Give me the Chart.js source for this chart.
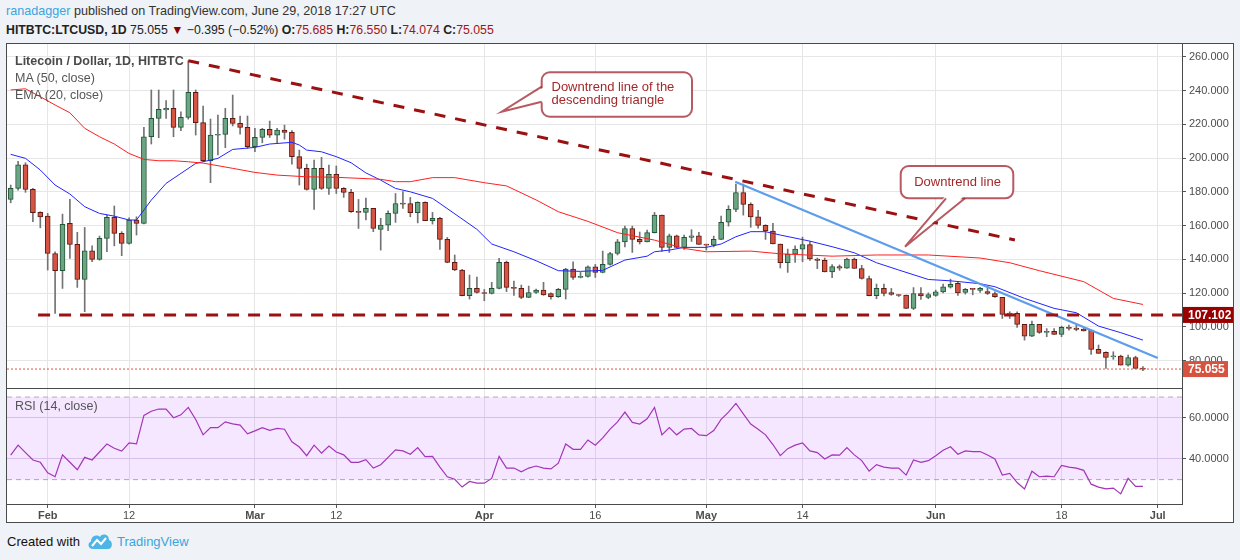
<!DOCTYPE html>
<html lang="en">
<head>
<meta charset="UTF-8">
<title>LTCUSD 1D</title>
<script src="https://cdn.jsdelivr.net/npm/chart.js"></script>
<style>
    body {
        margin: 0;
        width: 1240px;
        height: 560px;
        background: #eff2f6;
        font-family: "Liberation Sans", Arial, sans-serif;
        position: relative;
        overflow: hidden;
    }
    .abs { position: absolute; white-space: nowrap; }
    .red { color: #a31515; }
    #frame {
        position: absolute; left: 6px; top: 43px; width: 1228px; height: 480px;
        border: 1px solid #4a4a4a; box-sizing: border-box; background: #fff;
    }
    #sep { position: absolute; left: 6px; top: 388px; width: 1177px; height: 1px; background: #4a4a4a; }
    #priceCanvas { position: absolute; left: 7px; top: 44px; }
    #rsiCanvas { position: absolute; left: 7px; top: 389px; }
</style>
</head>
<body>
<div class="abs" style="left:6px; top:4px; font-size:12.6px; color:#333;"><span style="color:#3ba4e0">ranadagger</span> published on TradingView.com, June 29, 2018 17:27 UTC</div>
<div class="abs" style="left:6px; top:23px; font-size:12.3px; color:#222;"><b>HITBTC:LTCUSD, 1D</b> 75.055 <span style="color:#8b0000">&#9660;</span> &minus;0.395 (&minus;0.52%) <b>O:</b><span class="red">75.685</span> <b>H:</b><span class="red">76.550</span> <b>L:</b><span class="red">74.074</span> <b>C:</b><span class="red">75.055</span></div>

<div id="frame"></div>
<canvas id="priceCanvas" width="1226" height="344"></canvas>
<canvas id="rsiCanvas" width="1226" height="133"></canvas>
<div id="sep"></div>

<div class="abs" style="left:15px; top:54px; font-size:12.5px; color:#4a4a4a; font-weight:bold;">Litecoin / Dollar, 1D, HITBTC</div>
<div class="abs" style="left:15px; top:71px; font-size:12.5px; color:#555;">MA (50, close)</div>
<div class="abs" style="left:15px; top:88px; font-size:12.5px; color:#555;">EMA (20, close)</div>
<div class="abs" style="left:15px; top:399px; font-size:12.5px; color:#555;">RSI (14, close)</div>

<div class="abs" style="left:7px; top:534px; font-size:13px; color:#111;">Created with</div>
<svg class="abs" style="left:87px; top:532px;" width="26" height="18" viewBox="0 0 26 18">
    <path d="M6 17 C1 17 0 11 4 9.5 C4 4 10 2 13 5 C15 1 22 2 22 8 C26 9 26 17 21 17 Z" fill="#4db6e6"/>
    <path d="M5 14 L10 8 L14 12 L19 6" stroke="#fff" stroke-width="2" fill="none"/>
</svg>
<div class="abs" style="left:117px; top:534px; font-size:13px; color:#3ba4e0;">TradingView</div>

<script>
    // candles: one per day, day index counted from Feb 1 (Jan 27 = -5)
    const firstDay = -5;
    const opens = [175.5,182,196,181.4,167.8,165.6,143.5,133.3,161.3,148.9,128.1,145.1,140,152.4,164.9,155.4,149.5,163.3,161.3,212.6,223.5,228.5,229.4,218.2,224.1,238.9,
        221,198.4,213.5,214,223.5,220.5,218.2,206.7,212.2,217,213.6,216.6,215.2,200.8,193.9,181.4,193.9,182,190.3,182,179.7,168.4,167.8,170.2,157.8,160.3,167.2,
        173.3,173.1,167.6,173.7,162.9,164.3,151.8,138.2,133.7,118.5,122.8,120.4,119.8,122.8,138.2,123.4,122.8,117.5,120.4,121.8,119.8,117.9,122.2,134.3,129.3,129.9,
        135.6,132.3,137,143.5,150.4,158.3,151.8,150.4,155.8,166.2,147.1,154,147.1,153,154,148.9,148.4,151.8,162,169.6,179.6,172.6,165.2,160.1,156.8,149.1,
        138,143.1,146.1,148.7,140.2,139.4,132.6,135.7,134.8,140.2,134.6,128.7,118.5,122.8,120.4,119,118.9,111,119.8,117.5,118.7,120.8,123.6,125.8,120.4,122.8,121.6,
        121,119.8,117.5,107.4,108,101.5,94.6,101.5,96.8,97.4,95.6,99.7,99.3,98.7,98.1,86.7,84.9,82.3,82.7,77.4,81.9,75.685];
    const highs = [184,198,197.2,182,168.2,167.2,144.5,166.8,175.5,156,158.9,148,153.8,166.2,171.6,156.4,164.6,165.2,218.2,240.3,240.3,234,240.3,227.4,257.6,240.3,
        230.8,223.1,225.5,229.4,237.3,224.9,224.9,217.6,217.6,221.9,217.6,219.5,216.2,204.7,196.4,198.8,200.4,195.8,195.3,182.5,181.4,175.5,176.3,170.2,164.3,168.8,179,
        180.2,176.7,174.1,174.1,167.8,164.9,153,142.6,134.1,130.7,129.5,122.2,126.4,140.6,139,127.1,124.8,124.2,122.4,126.4,120.2,122.8,134.7,138.6,132.3,136.2,
        137,144.9,144.1,151.8,159.7,159.7,156.2,157.4,167.8,166.2,155,154.4,154.4,157.6,156,149,153.8,165.6,171.8,184.6,184.6,173.5,169,160.5,161.3,149.1,
        146.1,148,153.2,150.6,140.8,140.8,136.9,136.7,140.8,140.8,136.5,130.1,125.4,125.4,122.8,119.2,118.9,123.3,123.3,120.2,121.8,125.4,128.3,126.8,122.8,122.8,123.5,
        123.8,120.8,117.5,109,109,101.5,103.5,101.5,99,99,100.5,101.1,101.1,99.1,98.1,89.3,85.3,85.3,83.3,83.3,82.7,76.55];
    const lows = [173.5,181,179.7,162.3,158.7,133.7,108,122.8,140.6,123.4,109,138.6,139.5,144.5,148,142.2,149,154.4,161,208.3,212,223.5,212.6,216.2,223,213.6,
        198,185.4,201.8,206.1,219,214.2,205.7,203.7,209,212.2,209,211.2,196.4,184,181,169.6,181.4,178.5,179,176.7,167.8,158.3,163.3,156.4,145.5,157,161.9,
        170.2,165.2,161.6,162.9,160.9,145.9,138,133.3,118.3,116.5,120,115.5,119.5,122.5,120.9,118.7,116.7,117.3,119.8,118.7,116.5,117.5,116.5,128.2,129,129.5,
        129.3,132,136.6,142.6,147.4,144.1,149.1,150.4,155.6,144.7,144.1,146.9,145.9,150.6,148.9,145.5,147.4,151.6,159.7,168.2,166.2,159,158.5,151.8,149.1,134.9,
        132.3,138.2,138.6,139.4,134.5,132.6,129.1,133.5,134.6,134.6,128.3,118.3,116.7,118.3,118.7,118,110.8,110.3,116.3,116.7,118.1,120.2,123,118.7,119.4,119,120.5,
        119.2,117.5,105,105,99.7,92.2,94.2,96.2,94.2,95.6,94.2,98.1,97.7,97.5,83.7,84.3,75.5,80.8,77.4,76.8,75.4,74.074];
    const closes = [182,196,181.4,167.6,165.2,143.5,133.3,160.7,148.9,128.1,145.1,140,152.4,164.9,155.4,149.5,163.3,161.3,212.6,223.5,228.8,229.4,218.2,224.1,238.9,221,
        198.4,213.6,214,223.5,220.5,218.2,206.7,212.2,217,213.6,216.6,215.2,200.8,193.9,181.4,193.9,182,190.3,182,179.7,168.2,167.8,170.2,158.3,160.3,167.2,173.1,
        172.7,167.6,173.7,162.9,164.3,151.8,138.2,133.7,118.5,122.8,120.4,119.8,122.8,138.2,123.4,122.8,117.5,120.4,121.8,118.9,117.9,122.2,134.3,129.3,129.9,135.6,
        132.3,137,143.5,150.4,158.3,151.8,150.4,155.8,166.2,147.1,154,147.1,153,154,148.9,148.4,151.8,162,169.6,179.6,172.6,165.2,160.1,156.8,149.1,138,
        143.1,146.1,148.7,140.2,139.4,132.6,135.7,134.8,140.2,134.6,128.7,118.5,122.8,119.8,119.2,118.6,111,119.8,118.3,119.2,120.8,123.8,125.2,120.2,122.2,122.2,122.8,
        119.8,117.9,107.4,108.2,101.5,94.6,101.5,96.8,97.4,95.6,99.7,99.1,98.5,97.7,86.7,84.3,81.9,82.9,77.4,81.9,75.45,75.055];

    // moving averages at sample days
    const maDays = [-5,-3,-1,1,3,5,7,9,11,13,15,17,19,21,25,28,31,35,39,45,47,49,52,55,59,62,66,69,73,77,82,86,89,95,99,106,112,119,126,130,134,140,144,148];
    const maValues = [240.3,241,236.3,231.4,226.8,217.6,212.6,208.3,202.7,199.2,198.4,198.4,197.8,197,193.9,191.5,189.9,188.9,188.6,187.4,186,186,188.4,188.4,185.4,183.5,
        175.2,168.2,162.5,155.8,151.4,146.5,144.5,144.9,143.3,141.9,142.6,142.6,140.8,138,133.3,126.8,116.9,113.3];
    const emaDays = [-5,-3,-1,1,3,5,7,9,11,12,14,16,18,20,23,25,28,30,33,34,35,37,39,41,43,45,47,49,52,53,58,60,63,66,69,72,75,78,81,82,84,86,89,91,93,95,97,99,
        103,106,109,112,115,119,122,126,128,132,136,139,142,145,148];
    const emaValues = [202.2,199.8,192.9,184,178.7,171.2,167.2,165.6,163.3,163.3,175.1,185,190.9,196.8,199.8,205.1,206.3,208.3,209.3,207.7,204.7,203.7,200.8,197.2,
        191.2,186.9,182,180,176.1,173.1,157.8,149.1,144.5,139.2,133.3,132.9,133.5,139.6,141.9,144.5,145.5,147.1,147.1,149.1,153.4,156.4,156.4,154.4,150.8,147.5,143.9,
        138,133.7,128.1,127.3,125.6,123.8,116.9,111,108.4,100.5,96.6,92.2];

    // RSI(14), one value per candle
    const rsiValues = [41.9,46.7,43.1,39.5,38.4,33.3,31.4,42,38.4,34.8,40.8,39.5,43.4,47.3,45.2,43.8,47.8,47.3,61.1,63.1,64.2,64.2,60,61.4,65,59.1,51.7,55.2,55.2,58,
        57,56.4,52.2,53.6,55.2,53.9,54.8,54.4,48.3,45.8,41.6,46.7,42.8,46.3,43.4,42,38.4,38.4,39.7,35.6,37.2,40.8,44.4,43.9,42.3,45.5,41.1,41.3,36.1,31.4,30.2,26.4,
        29.1,28.3,28.3,30.6,41.3,35.6,35.6,33.8,35.6,36.6,35.6,35.2,38,47.3,44.7,44.7,49.2,46.7,50.2,54.5,58,62.7,57.7,56.9,59.5,65,51.7,55.2,51.7,54.5,54.8,51.7,
        51.3,53.8,59.2,62.7,66.9,61.9,56.9,54.4,51.7,47,41.6,45,46.7,47.8,43.9,43.1,40,42,41.9,45.5,42,39.2,34.1,37.3,36.1,35.6,35.6,32.2,39.5,38.4,39.2,41.6,44.2,
        45.9,42.3,43.9,43.6,43.6,41.9,40,32.2,33,28.6,25.5,34.1,31.4,31.7,31.4,36.9,36.1,35.6,34.5,27.8,26.4,25.5,25.9,23.1,30.6,26.7,26.7];

    // drawn lines
    const triangleX = [19, 130.7], triangleY = [257.6, 151.5];
    const supportLevel = 107.102, supportStart = -1.3;
    const downTrendX = [92.9, 150], downTrendY = [186, 81.6];
    const lastPrice = 75.055;

    // axis ticks
    const tickDays = [0, 11, 28, 39, 59, 74, 89, 102, 120, 137, 150];
    const tickLabels = ['Feb', '12', 'Mar', '12', 'Apr', '16', 'May', '14', 'Jun', '18', 'Jul'];
    const monthDays = [0, 28, 59, 89, 120, 150];
    const priceTicks = [80, 100, 120, 140, 160, 180, 200, 220, 240, 260];
    const rsiTicks = [40, 60];

    const xMin = -5.5, xMax = 153.28;
    const fontFam = '"Liberation Sans", Arial, sans-serif';

    const days = opens.map((_, i) => firstDay + i);
    const upColor = '#6ba583', upBorder = '#225437', downColor = '#d75442', downBorder = '#5b1a13';
    const isUp = opens.map((o, i) => closes[i] >= o);

    function callout(ctx, b) {
        ctx.save();
        ctx.lineWidth = 2;
        ctx.strokeStyle = 'rgba(160,35,45,0.75)';
        ctx.fillStyle = '#fff';
        ctx.beginPath();
        ctx.roundRect(b.x0, b.y0, b.x1 - b.x0, b.y1 - b.y0, 8);
        ctx.fill();
        ctx.stroke();
        // pointer
        const [p1, p2] = b.base;
        ctx.beginPath();
        ctx.moveTo(p1[0] + b.inset[0], p1[1] + b.inset[1]);
        ctx.lineTo(b.tip[0], b.tip[1]);
        ctx.lineTo(p2[0] + b.inset[0], p2[1] + b.inset[1]);
        ctx.closePath();
        ctx.fill();
        ctx.beginPath();
        ctx.moveTo(p1[0], p1[1]);
        ctx.lineTo(b.tip[0], b.tip[1]);
        ctx.lineTo(p2[0], p2[1]);
        ctx.stroke();
        ctx.fillStyle = '#a3282b';
        ctx.font = '13px ' + fontFam;
        ctx.textAlign = b.align;
        ctx.textBaseline = 'middle';
        b.lines.forEach((t, i) => ctx.fillText(t, b.tx, b.ty[i]));
        ctx.restore();
    }

    function priceTag(ctx, x, y, text, color, w) {
        ctx.save();
        ctx.fillStyle = color;
        ctx.fillRect(x + 1, y - 8, w, 16);
        ctx.fillStyle = '#fff';
        ctx.font = 'bold 12px ' + fontFam;
        ctx.textAlign = 'left';
        ctx.textBaseline = 'middle';
        ctx.fillText(text, x + 6, y + 0.5);
        ctx.restore();
    }

    const overlayPlugin = {
        id: 'overlay',
        afterDraw(chart) {
            const ctx = chart.ctx;
            const ys = chart.scales.y, area = chart.chartArea;
            callout(ctx, {
                x0: 534.7, y0: 28.3, x1: 685, y1: 72.7,
                base: [[534.7, 42.7], [534.7, 57.7]], inset: [3, 0], tip: [494.7, 67.7],
                lines: ['Downtrend line of the', 'descending triangle'], align: 'left', tx: 544.5, ty: [43.5, 56]
            });
            callout(ctx, {
                x0: 893.7, y0: 122, x1: 1006.3, y1: 154.3,
                base: [[958, 154.3], [939, 154.3]], inset: [0, -3], tip: [898, 202.7],
                lines: ['Downtrend line'], align: 'center', tx: 950.5, ty: [138]
            });
            priceTag(ctx, area.right, ys.getPixelForValue(supportLevel), '107.102', '#990000', 51);
            priceTag(ctx, area.right, ys.getPixelForValue(lastPrice), '75.055', '#d8533f', 45);
        }
    };

    function lineSet(xs, ysv, color, width, dash, order) {
        return {
            type: 'line',
            data: xs.map((x, i) => ({ x: x, y: ysv[i] })),
            borderColor: color,
            borderWidth: width,
            borderDash: dash,
            pointRadius: 0,
            tension: 0,
            fill: false,
            order: order
        };
    }

    // no auto padding: the chart area fills its canvas edge to edge
    function fitY(s) {
        s.width = 51;
        s.paddingTop = 0;
        s.paddingBottom = 0;
    }
    function fitX(h) {
        return s => {
            s.height = h;
            s.paddingLeft = 0;
            s.paddingRight = 0;
        };
    }

    new Chart(document.getElementById('priceCanvas'), {
        type: 'bar',
        data: {
            datasets: [
                {
                    data: days.map((d, i) => ({ x: d, y: [lows[i], highs[i]] })),
                    backgroundColor: '#737375',
                    barThickness: 1,
                    grouped: false,
                    order: 3
                },
                {
                    data: days.map((d, i) => ({ x: d, y: [opens[i], closes[i]] })),
                    backgroundColor: isUp.map(u => u ? upColor : downColor),
                    borderColor: isUp.map(u => u ? upBorder : downBorder),
                    borderWidth: 1,
                    borderSkipped: false,
                    barThickness: 5,
                    minBarLength: 1,
                    grouped: false,
                    order: 2
                },
                lineSet(maDays, maValues, '#ff1f1f', 1, [], 1),
                lineSet(emaDays, emaValues, '#2323ff', 1, [], 1),
                lineSet(triangleX, triangleY, '#9b1111', 3, [11, 10], 0),
                lineSet([supportStart, xMax], [supportLevel, supportLevel], '#9b1111', 3, [12, 9], 0),
                lineSet(downTrendX, downTrendY, '#5c9ded', 2.2, [], 0),
                lineSet([xMin, xMax], [lastPrice, lastPrice], '#e0533f', 1, [2, 2], 0)
            ]
        },
        options: {
            responsive: false,
            animation: false,
            layout: { padding: 0 },
            plugins: { legend: { display: false }, tooltip: { enabled: false } },
            scales: {
                x: {
                    type: 'linear',
                    min: xMin,
                    max: xMax,
                    offset: false,
                    afterBuildTicks: s => { s.ticks = tickDays.map(v => ({ value: v })); },
                    afterFit: fitX(0),
                    ticks: { display: false },
                    grid: { color: '#e6e6e6', drawTicks: false, offset: false },
                    border: { display: false }
                },
                y: {
                    position: 'right',
                    min: 63.84,
                    max: 267.52,
                    afterBuildTicks: s => { s.ticks = priceTicks.map(v => ({ value: v })); },
                    afterFit: fitY,
                    ticks: {
                        callback: v => v.toFixed(3),
                        color: '#4d4d4d',
                        font: { size: 11, family: fontFam },
                        padding: 3
                    },
                    grid: { color: '#e6e6e6', tickLength: 4, tickColor: '#555' },
                    border: { display: true, color: '#4a4a4a' }
                }
            }
        },
        plugins: [overlayPlugin]
    });

    new Chart(document.getElementById('rsiCanvas'), {
        type: 'line',
        data: {
            datasets: [
                {
                    data: days.map((d, i) => ({ x: d, y: rsiValues[i] })),
                    borderColor: '#a335b8',
                    borderWidth: 1.2,
                    pointRadius: 0,
                    tension: 0,
                    fill: false,
                    order: 0
                },
                {
                    data: [{ x: xMin, y: 70 }, { x: xMax, y: 70 }],
                    borderColor: '#b6a9c2',
                    borderWidth: 1,
                    borderDash: [5, 4],
                    pointRadius: 0,
                    fill: '+1',
                    backgroundColor: 'rgba(153,21,255,0.1)',
                    order: 1
                },
                {
                    data: [{ x: xMin, y: 30 }, { x: xMax, y: 30 }],
                    borderColor: '#b6a9c2',
                    borderWidth: 1,
                    borderDash: [5, 4],
                    pointRadius: 0,
                    fill: false,
                    order: 1
                }
            ]
        },
        options: {
            responsive: false,
            animation: false,
            layout: { padding: 0 },
            plugins: { legend: { display: false }, tooltip: { enabled: false } },
            scales: {
                x: {
                    type: 'linear',
                    min: xMin,
                    max: xMax,
                    afterBuildTicks: s => { s.ticks = tickDays.map(v => ({ value: v })); },
                    afterFit: fitX(18),
                    ticks: {
                        autoSkip: false,
                        maxRotation: 0,
                        padding: 1,
                        color: '#4d4d4d',
                        callback: v => tickLabels[tickDays.indexOf(v)],
                        font: c => ({
                            size: 11,
                            family: fontFam,
                            weight: (c.tick && monthDays.includes(c.tick.value)) ? 'bold' : 'normal'
                        })
                    },
                    grid: { color: '#e6e6e6', tickLength: 4, tickColor: '#555' },
                    border: { display: true, color: '#4a4a4a' }
                },
                y: {
                    position: 'right',
                    min: 18.2,
                    max: 73.9,
                    afterBuildTicks: s => { s.ticks = rsiTicks.map(v => ({ value: v })); },
                    afterFit: fitY,
                    ticks: {
                        callback: v => v.toFixed(4),
                        color: '#4d4d4d',
                        font: { size: 11, family: fontFam },
                        padding: 3
                    },
                    grid: { color: '#ddd3e6', tickLength: 4, tickColor: '#555' },
                    border: { display: true, color: '#4a4a4a' }
                }
            }
        }
    });
</script>
</body>
</html>
